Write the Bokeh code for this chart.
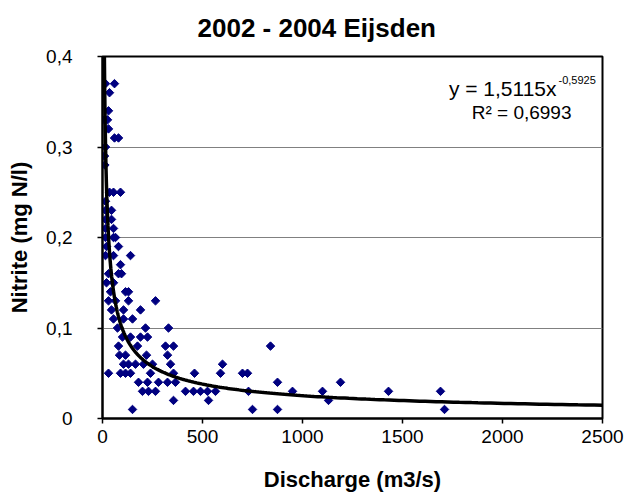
import numpy as np
from bokeh.plotting import figure
from bokeh.models import Range1d, FixedTicker, CustomJSTickFormatter, Label, ColumnDataSource
from bokeh.embed import file_html
from bokeh.resources import INLINE

# Data (discharge m3/s, nitrite mg N/l)
discharge = [15, 60, 35, 30, 10, 25, 30, 60, 80, 15, 10, 12, 35, 55, 90,
             15, 15, 45, 15, 45, 15, 55, 15, 55, 65, 20, 80, 15, 55, 140,
             90, 30, 80, 95, 20, 55, 40, 115, 130, 30, 65, 130, 265,
             45, 105, 190, 55, 105, 150, 75, 215, 330, 100, 140, 190, 225,
             80, 175, 315, 355, 840, 85, 115, 220, 325,
             105, 130, 165, 205, 250, 340, 600,
             30, 90, 115, 140, 240, 355, 460, 590, 700, 725,
             180, 225, 280, 325, 365, 875, 1190,
             200, 230, 265, 415, 455, 490, 525, 565, 730, 950, 1100, 1430, 1690,
             355, 530, 1130,
             150, 750, 875, 1710]
nitrite = [0.37, 0.37, 0.36, 0.34, 0.33, 0.33, 0.32, 0.31, 0.31, 0.30, 0.29, 0.28, 0.25, 0.25, 0.25,
           0.24, 0.23, 0.23, 0.22, 0.22, 0.21, 0.21, 0.20, 0.20, 0.20, 0.19, 0.19, 0.18, 0.18, 0.18,
           0.17, 0.16, 0.16, 0.16, 0.15, 0.15, 0.14, 0.14, 0.14, 0.13, 0.13, 0.13, 0.13,
           0.12, 0.12, 0.12, 0.11, 0.11, 0.11, 0.10, 0.10, 0.10, 0.09, 0.09, 0.09, 0.09,
           0.08, 0.08, 0.08, 0.08, 0.08, 0.07, 0.07, 0.07, 0.07,
           0.06, 0.06, 0.06, 0.06, 0.06, 0.06, 0.06,
           0.05, 0.05, 0.05, 0.05, 0.05, 0.05, 0.05, 0.05, 0.05, 0.05,
           0.04, 0.04, 0.04, 0.04, 0.04, 0.04, 0.04,
           0.03, 0.03, 0.03, 0.03, 0.03, 0.03, 0.03, 0.03, 0.03, 0.03, 0.03, 0.03, 0.03,
           0.02, 0.02, 0.02,
           0.01, 0.01, 0.01, 0.01]

# Power trendline as displayed: y = 1,5115 x^-0,5925
trend_a = 1.5115
trend_b = -0.5925
x_ticks = [0, 500, 1000, 1500, 2000, 2500]
y_ticks = [0, 0.1, 0.2, 0.3, 0.4]

FONT = "Liberation Sans"

p = figure(width=628, height=496, output_backend="svg", toolbar_location=None,
           x_range=Range1d(0, 2500), y_range=Range1d(0, 0.4),
           min_border_left=102, min_border_right=26, min_border_top=56, min_border_bottom=78)

p.title.text = "2002 - 2004 Eijsden"
p.title.text_font = FONT
p.title.text_font_size = "26px"
p.title.text_font_style = "bold"
p.title.text_color = "black"
p.title.align = "left"
p.title.offset = 95
p.title.vertical_align = "top"
p.title.standoff = 24

p.background_fill_color = "white"
p.border_fill_color = "white"
p.outline_line_color = "black"
p.outline_line_width = 2
p.outline_line_alpha = 1

p.xgrid.visible = False
p.ygrid.grid_line_color = "#808080"
p.ygrid.grid_line_width = 1

for ax in (p.xaxis[0], p.yaxis[0]):
    ax.axis_line_color = "black"
    ax.axis_line_width = 2
    ax.major_tick_line_color = "black"
    ax.major_tick_line_width = 1.5
    ax.major_tick_out = 5
    ax.major_tick_in = 0
    ax.minor_tick_line_color = None
    ax.major_label_text_font = FONT
    ax.major_label_text_font_size = "19px"
    ax.major_label_text_color = "black"
    ax.axis_label_text_font = FONT
    ax.axis_label_text_font_size = "22px"
    ax.axis_label_text_font_style = "bold"
    ax.axis_label_text_color = "black"

p.xaxis.ticker = FixedTicker(ticks=x_ticks)
p.yaxis.ticker = FixedTicker(ticks=y_ticks)
p.yaxis.formatter = CustomJSTickFormatter(code="return tick === 0 ? '0' : tick.toFixed(1).replace('.', ',');")
p.xaxis.axis_label = "Discharge (m3/s)"
p.yaxis.axis_label = "Nitrite (mg N/l)"
p.xaxis.major_label_standoff = 6
p.xaxis.axis_label_standoff = 21
p.yaxis.major_label_standoff = 25
p.yaxis.axis_label_standoff = 11

src = ColumnDataSource(data=dict(x=discharge, y=nitrite))
p.scatter("x", "y", source=src, marker="square", angle=np.pi / 4, size=6,
          fill_color="#000080", line_color="#000080")

tx = np.geomspace(3, 2500, 400)
ty = trend_a * tx ** trend_b
p.line(tx, ty, line_color="black", line_width=3.5)

p.add_layout(Label(x=2270, y=0.3646, text="y = 1,5115x", text_font=FONT, text_font_size="21px",
                   text_align="right", text_baseline="middle", text_color="black"))
p.add_layout(Label(x=2280, y=0.3735, text="-0,5925", text_font=FONT, text_font_size="11px",
                   text_align="left", text_baseline="middle", text_color="black"))
p.add_layout(Label(x=2345, y=0.338, text="R\u00b2 = 0,6993", text_font=FONT, text_font_size="19px",
                   text_align="right", text_baseline="middle", text_color="black"))

open("out.html", "w").write(file_html(p, INLINE))
